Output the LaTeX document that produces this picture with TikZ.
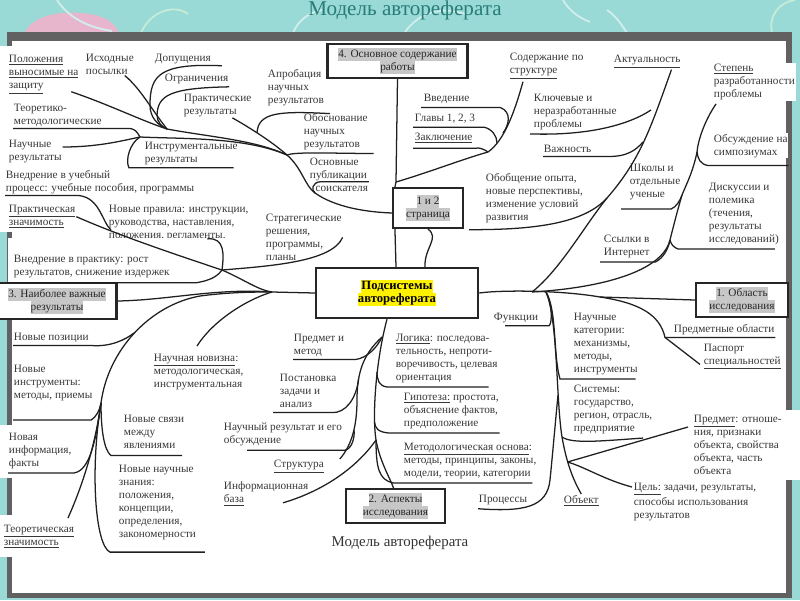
\documentclass[tikz,border=0pt]{standalone}
\usepackage{fontspec}
\setmainfont{Liberation Serif}
\usetikzlibrary{calc}

\definecolor{slideteal}{RGB}{153,217,214}
\definecolor{titleteal}{RGB}{40,125,120}
\definecolor{blobpink}{RGB}{232,182,204}
\definecolor{paleswirl}{RGB}{196,236,214}

\newcommand{\lblfont}{\fontsize{8}{9.3}\selectfont}
\newcommand{\graymark}[1]{{\setlength{\fboxsep}{0pt}\colorbox{black!22}{\strut#1}}}
\newcommand{\yellowmark}[1]{{\setlength{\fboxsep}{0pt}\colorbox{yellow}{\strut#1}}}

\begin{document}
\begin{tikzpicture}[x=0.025cm, y=-0.025cm]
	\tikzstyle{label_text} = [anchor=north west, align=left, inner sep=0.5pt, fill=white, text=black!78, font=\lblfont]
	\tikzstyle{box_main} = [draw=black!85, line width=1.5pt, fill=white, align=center, inner sep=1pt, text=black!85, font=\lblfont]
	\tikzstyle{branch} = [draw=black!88, line width=0.9pt]
	\tikzstyle{swirl} = [draw=white!55!slideteal, line width=1.3pt]
	\tikzstyle{text_box} = [fill=white]

	\useasboundingbox (0,0) rectangle (800,600);
	\clip (0,0) rectangle (800,600);

%------------------------------------------------------------
	\fill[slideteal] (0,0) rectangle (800,600);
	\fill[blobpink] (22,42) .. controls (24,16) and (60,8) .. (95,15) .. controls (115,20) and (122,32) .. (118,42) -- cycle;
	\draw[swirl] (57,0) .. controls (70,20) and (92,28) .. (112,31);
	\draw[swirl, paleswirl] (140,35) .. controls (150,10) and (175,4) .. (188,14);
	\draw[swirl] (293,33) .. controls (298,20) and (310,12) .. (322,10);
	\draw[swirl] (405,32) .. controls (420,12) and (440,6) .. (465,14);
	\draw[swirl] (563,0) .. controls (570,12) and (580,18) .. (590,22);
	\draw[swirl] (607,10) .. controls (615,15) and (622,25) .. (627,33);
	\draw[swirl, paleswirl] (772,33) .. controls (768,15) and (780,2) .. (795,0);
	\node[font=\fontsize{15}{17}\selectfont, text=titleteal, anchor=base] (title) at (405,15) {Модель автореферата};

	\fill[black!62] (7,32) rectangle (792,598);
	\fill[white] (12,41) rectangle (786,593);
	\fill[text_box] (0,46) rectangle (80,98);
	\fill[text_box] (0,98) rectangle (12,200);
	\fill[text_box] (0,168) rectangle (236,200);
	\fill[text_box] (0,200) rectangle (98,232);
	\fill[text_box] (0,425) rectangle (95,478);
	\fill[text_box] (0,515) rectangle (95,557);
	\fill[text_box] (686,410) rectangle (800,480);

%------------------------------------------------------------
	\node[label_text] (pol) at (8,54) {\underline{Положения}\\\underline{выносимые на}\\\underline{защиту}};
	\node[label_text] (isk) at (85,53) {Исходные\\посылки};
	\node[label_text] (dop) at (154,53) {Допущения};
	\node[label_text] (ogr) at (164,73) {Ограничения};
	\node[label_text] (prr) at (183,93) {Практические\\результаты};
	\node[label_text] (teo) at (13,103) {Теоретико-\\методологические};
	\node[label_text] (nrz) at (8,139) {Научные\\результаты};
	\node[label_text] (ins) at (144,141) {Инструментальные\\результаты};
	\node[label_text] (vnu) at (5,169) {Внедрение в учебный\\процесс: учебные пособия, программы};
	\node[label_text] (apr) at (267,68) {Апробация\\научных\\результатов};
	\node[label_text] (obo) at (303,112) {Обоснование\\научных\\результатов};
	\node[label_text] (osn) at (309,157) {Основные\\публикации\\\hspace*{4pt}соискателя};

%------------------------------------------------------------

	\node[label_text] (vved) at (423,93) {Введение};
	\node[label_text] (glav) at (414,113) {Главы 1, 2, 3};
	\node[label_text] (zakl) at (414,132) {\underline{Заключение}};
	\node[label_text] (sod) at (509,52) {Содержание по\\\underline{структуре}};
	\node[label_text] (akt) at (613,54) {\underline{Актуальность}};
	\node[label_text] (klyu) at (533,93) {Ключевые и\\неразработанные\\проблемы};
	\node[label_text] (vazh) at (543,144) {Важность};
	\node[label_text] (step) at (713,63) {\underline{Степень}\\разработанности\\проблемы};
	\node[label_text] (obs) at (713,133) {Обсуждение на\\симпозиумах};
	\node[label_text] (shk) at (629,163) {Школы и\\отдельные\\ученые};
	\node[label_text] (obob) at (485,172) {Обобщение опыта,\\новые перспективы,\\изменение условий\\развития};
	\node[label_text] (disk) at (708,182) {Дискуссии и\\полемика\\(течения,\\результаты\\исследований)};
	\node[label_text] (ssy) at (603,234) {Ссылки в\\Интернет};

%------------------------------------------------------------

	\node[label_text] (prz) at (8,204) {\underline{Практическая}\\\underline{значимость}};
	\node[label_text] (npr) at (108,204) {Новые правила: инструкции,\\руководства, наставления,\\положения, регламенты.};
	\fill[text_box] (8,238) rectangle (200,283);
	\node[label_text] (vnp) at (13,254) {Внедрение в практику: рост\\результатов, снижение издержек};
	\node[label_text] (str) at (265,213) {Стратегические\\решения,\\программы,\\планы};
	\node[label_text] (npz) at (13,332) {Новые позиции};
	\node[label_text] (nin) at (13,364) {Новые\\инструменты:\\методы, приемы};
	\node[label_text] (nnov) at (153,353) {\underline{Научная новизна}:\\методологическая,\\инструментальная};
	\node[label_text] (ninf) at (8,432) {Новая\\информация,\\факты};
	\node[label_text] (nsv) at (123,414) {Новые связи\\между\\явлениями};
	\node[label_text] (nzn) at (118,464) {Новые научные\\знания:\\положения,\\концепции,\\определения,\\закономерности};
	\node[label_text] (tz) at (3,524) {\underline{Теоретическая}\\\underline{значимость}};

%------------------------------------------------------------

	\node[label_text] (pim) at (293,333) {Предмет и\\метод};
	\node[label_text] (post) at (279,373) {Постановка\\задачи и\\анализ};
	\node[label_text] (nres) at (223,422) {Научный результат и его\\обсуждение};
	\node[label_text] (struct) at (273,459) {\underline{Структура}};
	\node[label_text] (inf) at (223,481) {Информационная\\\underline{база}};
	\node[label_text] (log) at (395,333) {\underline{Логика}: последова-\\тельность, непроти-\\воречивость, целевая\\ориентация};
	\node[label_text] (gip) at (403,392) {\underline{Гипотеза:} простота,\\объяснение фактов,\\предположение};
	\node[label_text] (met) at (403,442) {\underline{Методологическая основа}:\\методы, принципы, законы,\\модели, теории, категории};
	\node[label_text] (proc) at (478,494) {Процессы};

%------------------------------------------------------------

	\node[label_text] (func) at (493,312) {Функции};
	\node[label_text] (nkat) at (573,312) {Научные\\категории:\\механизмы,\\методы,\\инструменты};
	\node[label_text] (sist) at (573,384) {Системы:\\государство,\\регион, отрасль,\\предприятие};
	\node[label_text] (predo) at (673,323) {Предметные области};
	\node[label_text] (pas) at (703,343) {Паспорт\\\underline{специальностей}};
	\node[label_text] (pred) at (693,414) {\underline{Предмет}: отноше-\\ния, признаки\\объекта, свойства\\объекта, часть\\объекта};
	\node[label_text] (cel) at (633,482) {\underline{Цель:} задачи, результаты,\\способы использования\\результатов};
	\node[label_text] (obj) at (563,494) {\underline{Объект}};

	\node[font=\fontsize{10.6}{12}\selectfont, text=black!80] (cap) at (400,543) {Модель автореферата};

%------------------------------------------------------------
	\node[box_main, minimum width=3.5cm, minimum height=0.85cm] (B4) at (397.5,61) {\graymark{4. Основное содержание}\\\graymark{работы}};
	\node[box_main, minimum width=1.75cm, minimum height=1cm] (B12) at (428,208) {\graymark{1 и 2}\\\graymark{страница}};
	\node[box_main, line width=1.7pt, minimum width=4.05cm, minimum height=1.25cm, font=\fontsize{9}{9.3}\selectfont\bfseries, text=black] (BC) at (397,293) {\yellowmark{Подсистемы}\\\yellowmark{автореферата}};
	\node[box_main, minimum width=2.975cm, minimum height=0.9cm] (B3) at (57,301) {\graymark{3. Наиболее важные}\\\graymark{результаты}};
	\node[box_main, minimum width=2.3cm, minimum height=0.85cm] (B1) at (742,300) {\graymark{1. Область}\\\graymark{исследования}};
	\node[box_main, minimum width=2.475cm, minimum height=0.85cm] (B2) at (395.5,506) {\graymark{2. Аспекты}\\\graymark{исследования}};

%------------------------------------------------------------
	\coordinate (hTL) at (167,129);
	\coordinate (hL2) at (140,137);
	\coordinate (hP3) at (257,133);
	\coordinate (hP2) at (287,155);
	\coordinate (hP1) at (315,193);
	\coordinate (vS) at (396,182);
	\coordinate (hS) at (488,152);
	\coordinate (hV) at (503,133);
	\coordinate (hG) at (497,143);
	\coordinate (hR) at (532,292);
	\coordinate (hF) at (546,292);
	\coordinate (hR2) at (600,297);
	\coordinate (hA1) at (651,110);
	\coordinate (hA2) at (643,142);
	\coordinate (hA3) at (607,198);
	\coordinate (hS1) at (697,152);
	\coordinate (hS2) at (682,195);
	\coordinate (hS3) at (670,240);
	\coordinate (hT1) at (558,395);
	\coordinate (hS4) at (562,437);
	\coordinate (hS5) at (567.5,462);
	\coordinate (hC1) at (382,337);
	\coordinate (hC2) at (376,440);
	\coordinate (hLg) at (377,372);
	\coordinate (hGp) at (374.5,422);
	\coordinate (hL3) at (358.6,379);
	\coordinate (hL4) at (354,430);
	\coordinate (hPZ0) at (111,230);
	\coordinate (hPZ) at (222,270);
	\coordinate (hCL) at (272,292);
	\coordinate (hBL) at (101,403);
	\coordinate (hBL2) at (134,333);

%------------------------------------------------------------
	\draw[branch] (B4.south) -- (vS) -- ($(B12.north west)+(3,0)$);
	\draw[branch] ($(B12.south west)+(3,0)$) -- ($(BC.north)+(-1,0)$);
	\draw[branch] (B12.south) .. controls (440,238) and (424,248) .. ($(BC.north)+(28,0)$);
	\draw[branch] ($(prr.south east)+(-20,0)$) .. controls (245,125) and (270,140) .. (hP2) .. controls (302,168) and (305,186) .. (hP1) .. controls (335,207) and (365,212) .. ($(B12.west)+(0,5)$);
	\draw[branch] ($(pol.south east)+(-8,-3)$) .. controls (110,105) and (140,120) .. (hTL) .. controls (210,137) and (255,140) .. (hP2);
	\draw[branch] ($(isk.south east)+(-10,0)$) .. controls (140,88) and (152,110) .. (hTL);
	\draw[branch] ($(dop.south east)+(10,1)$) .. controls (160,63) and (150,75) .. (150,105) .. controls (150,118) and (158,125) .. (hTL);
	\draw[branch] ($(ogr.south east)+(0,2)$) .. controls (170,88) and (158,95) .. (157,115) .. controls (157,122) and (162,127) .. (hTL);
	\draw[branch] ($(teo.south west)+(0,1)$) -- ($(teo.south east)+(25,1)$) .. controls (135,128) and (137,132) .. (hL2);
	\draw[branch] ($(nrz.north east)+(0,8)$) .. controls (100,147) and (125,140) .. (hL2);
	\draw[branch] ($(ins.south east)+(-5,2)$) -- ($(ins.south west)+(-15,2)$) .. controls (125,160) and (130,143) .. (hL2);
	\draw[branch] (hL2) .. controls (185,139) and (245,137) .. (hP2);
	\draw[branch] ($(apr.south east)+(5,7)$) .. controls (280,111) and (258,112) .. (hP3);
	\draw[branch] ($(obo.south east)+(5,3)$) .. controls (320,153) and (295,152) .. (hP2);
	\draw[branch] ($(osn.south east)+(0,-11)$) -- ($(osn.south west)+(12,-11)$) .. controls (312,182) and (311,190) .. (hP1);

%------------------------------------------------------------
	\draw[branch] (vS) .. controls (430,172) and (460,160) .. (hS) .. controls (505,140) and (515,110) .. ($(sod.south west)+(14,2)$);
	\draw[branch] ($(vved.south west)+(-2,3)$) -- ($(vved.south east)+(30,3)$) .. controls (512,112) and (509,125) .. (hV);
	\draw[branch] ($(glav.south west)+(-1,3)$) -- ($(glav.south east)+(8,3)$) .. controls (492,129) and (497,136) .. (hG);
	\draw[branch] ($(zakl.south west)+(-1,4)$) -- ($(zakl.south east)+(2,4)$) .. controls (478,147) and (484,149) .. (hS);

%------------------------------------------------------------
	\draw[branch] (BC.east) .. controls (500,290) and (560,290) .. (hR2) -- (B1.west);
	\draw[branch] ($(akt.south east)+(-10,1)$) .. controls (650,130) and (640,160) .. (hA3) .. controls (585,225) and (560,270) .. (hR);
	\draw[branch] ($(klyu.south west)+(-3,3)$) .. controls (590,136) and (630,124) .. (hA1);
	\draw[branch] ($(vazh.south west)+(0,3)$) -- ($(vazh.south east)+(15,3)$) .. controls (627,157) and (636,150) .. (hA2);
	\draw[branch] ($(obob.south west)+(-16,6)$) .. controls (540,230) and (585,222) .. (hA3);
	\draw[branch] ($(step.south west)+(3,3)$) .. controls (705,120) and (698,140) .. (hS1) .. controls (693,172) and (686,185) .. (hS2) .. controls (677,212) and (673,228) .. (hS3) .. controls (662,272) and (600,288) .. (hR);
	\draw[branch] ($(obs.south east)+(0,7)$) -- ($(obs.south west)+(-5,7)$) .. controls (700,164) and (698,159) .. (hS1);
	\draw[branch] ($(shk.south west)+(-8,8)$) -- ($(shk.south east)+(-10,8)$) .. controls (676,207) and (680,201) .. (hS2);
	\draw[branch] ($(disk.south east)+(-5,3)$) -- ($(disk.south west)+(-30,3)$) .. controls (673,247) and (671,244) .. (hS3);
	\draw[branch] ($(ssy.south west)+(-3,3)$) -- ($(ssy.south east)+(5,3)$) .. controls (663,258) and (668,250) .. (hS3);
	\draw[branch] (hR2) .. controls (640,303) and (660,315) .. ($(predo.south west)+(-8,2)$) -- ($(predo.south east)+(0,2)$);
	\draw[branch] ($(predo.south west)+(-8,2)$) -- ($(pas.south west)+(-3,-6)$);

%------------------------------------------------------------
	\draw[branch] ($(func.south west)+(12,2)$) -- ($(func.south east)+(10,2)$) .. controls (552,324) and (553,305) .. (hF);
	\draw[branch] (hF) .. controls (557,310) and (553,355) .. ($(nkat.south west)+(-13,3)$) -- ($(nkat.south east)+(-3,3)$);
	\draw[branch] (hF) .. controls (558,320) and (556,400) .. (hS4) .. controls (566,460) and (572,478) .. (obj.north);
	\draw[branch] ($(proc.south west)+(0,3)$) .. controls (525,512) and (547,507) .. (550,480) .. controls (553,450) and (556,415) .. (hT1);
	\draw[branch] ($(sist.south east)+(-10,3)$) .. controls (600,441) and (572,444) .. (hS4);
	\draw[branch] ($(pred.north west)+(-5,13)$) -- (hS5);
	\draw[branch] ($(cel.north west)+(-1,5)$) .. controls (605,480) and (585,467) .. (hS5);

%------------------------------------------------------------
	\draw[branch] ($(BC.south)+(-10,0)$) .. controls (376,360) and (372,415) .. (hC2) .. controls (380,462) and (390,478) .. ($(B2.north)+(-2,0)$);
	\draw[branch] (hC1) .. controls (362,355) and (357,375) .. (357,400) .. controls (357,425) and (352,445) .. ($(struct.north east)+(15,0)$);
	\draw[branch] ($(pim.south west)+(0,2)$) -- ($(pim.south east)+(10,2)$) .. controls (368,358) and (378,346) .. (hC1);
	\draw[branch] ($(post.south west)+(-6,4)$) -- ($(post.south east)+(-5,4)$) .. controls (345,413) and (356,400) .. (hL3);
	\draw[branch] ($(nres.south west)+(24,3)$) -- ($(nres.south east)+(2,3)$) .. controls (352,449) and (355,437) .. (hL4);
	\draw[branch] ($(inf.south west)+(60,-4)$) .. controls (320,492) and (355,470) .. (hC2);
	\draw[branch] ($(log.south east)+(-10,3)$) -- ($(log.south west)+(-8,3)$) .. controls (379,386) and (377,380) .. (hLg);
	\draw[branch] ($(gip.south east)+(0,3)$) -- ($(gip.south west)+(-15,3)$) .. controls (378,432) and (375,428) .. (hGp);
	\draw[branch] ($(met.south east)+(-5,3)$) -- ($(met.south west)+(-10,3)$) .. controls (379,480) and (376,468) .. (hC2);

%------------------------------------------------------------
	\draw[branch] (prz.east) .. controls (120,236) and (180,256) .. (hPZ) .. controls (245,280) and (258,290) .. (hCL) -- (BC.west);
	\draw[branch] ($(vnu.south west)+(0,1)$) -- ($(vnu.south west)+(74,1)$) .. controls (100,198) and (102,222) .. (hPZ0);
	\draw[branch] ($(npr.south east)+(-42,-3)$) .. controls (225,237) and (224,255) .. (hPZ);
	\draw[branch] ($(vnp.south west)+(-5,4)$) -- ($(vnp.south east)+(25,4)$) .. controls (214,280) and (219,274) .. (hPZ);
	\draw[branch] (str.east) .. controls (332,262) and (270,266) .. (hPZ);
	\draw[branch] (B3.east) .. controls (170,300) and (215,288) .. (hCL);
	\draw[branch] (hBL) .. controls (108,350) and (150,305) .. (200,296) .. controls (230,292) and (255,292) .. (hCL);
	\draw[branch] ($(npz.south west)+(0,2)$) -- ($(npz.south east)+(2,2)$) .. controls (110,347) and (125,340) .. (hBL2);
	\draw[branch] ($(nin.south west)+(0,18)$) -- ($(nin.south east)+(-2,18)$) .. controls (96,417) and (100,410) .. (hBL);
	\draw[branch] ($(ninf.south west)+(0,3)$) -- ($(ninf.south east)+(2,3)$) .. controls (90,470) and (96,440) .. (hBL);
	\draw[branch] ($(tz.north east)+(-7,-6)$) .. controls (85,480) and (96,440) .. (hBL);
	\draw[branch] ($(nsv.south east)+(-3,6)$) -- ($(nsv.south west)+(-12,6)$) .. controls (104,450) and (101,430) .. (hBL);
	\draw[branch] ($(nzn.south east)+(8,11)$) -- ($(nzn.south west)+(-8,11)$) .. controls (95,545) and (90,470) .. (hBL);
	\draw[branch] ($(nnov.north west)+(44,-7)$) .. controls (212,322) and (245,300) .. (hCL);

\end{tikzpicture}
\end{document}
